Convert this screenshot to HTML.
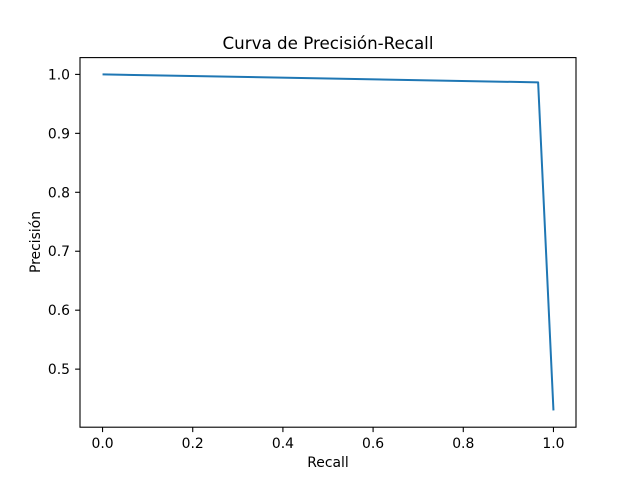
<!DOCTYPE html>
<html><head><meta charset="utf-8"><style>
body{margin:0;background:#fff;}
svg{display:block;font-family:"DejaVu Sans","Liberation Sans",sans-serif;}
</style></head><body>
<svg id="chart" width="640" height="480">
<rect x="0" y="0" width="640" height="480" fill="#fff"/>
<text x="328" y="49" text-anchor="middle" font-size="16.7">Curva de Precisión-Recall</text>
<g id="axes"></g>
<text x="328" y="467" text-anchor="middle" font-size="13.9">Recall</text>
<text transform="translate(40,242) rotate(-90)" text-anchor="middle" font-size="13.9">Precisión</text>
</svg>
<script>
const recall=[0.0,0.966,1.0];
const precision=[1.0,0.9865,0.43];
const xTicks=[0.0,0.2,0.4,0.6,0.8,1.0];
const yTicks=[0.5,0.6,0.7,0.8,0.9,1.0];
const L=80,R=576,T=57.6,B=427.2;
const xmin=-0.05,xmax=1.05,ymin=0.4015,ymax=1.0285;
const sx=v=>L+(v-xmin)/(xmax-xmin)*(R-L);
const sy=v=>B-(v-ymin)/(ymax-ymin)*(B-T);
const g=document.getElementById('axes');
const NS='http://www.w3.org/2000/svg';
function mk(t,a){const e=document.createElementNS(NS,t);for(const k in a)e.setAttribute(k,a[k]);g.appendChild(e);return e;}
xTicks.forEach(v=>{
 const x=sx(v);
 const l=mk('line',{x1:x,x2:x,y1:B,y2:B+4.9,stroke:'#000','stroke-width':1.1});
 
 
 const t=mk('text',{x:x,y:B+21,'text-anchor':'middle','font-size':13.9});
 t.textContent=v.toFixed(1);
 
 
});
yTicks.forEach(v=>{
 const y=sy(v);
 const l=mk('line',{x1:L-4.9,x2:L,y1:y,y2:y,stroke:'#000','stroke-width':1.1});
 
 
 const t=mk('text',{x:L-10,y:y+5,'text-anchor':'end','font-size':13.9});
 t.textContent=v.toFixed(1);
 
 
});
const pts=recall.map((r,i)=>sx(r)+','+sy(precision[i])).join(' ');
const line=mk('polyline',{points:pts,fill:'none',stroke:'#1f77b4','stroke-width':2,'stroke-linejoin':'round'});


const fr=mk('rect',{x:L,y:T,width:R-L,height:B-T,fill:'none',stroke:'#000','stroke-width':1.1});


</script>
</body></html>
